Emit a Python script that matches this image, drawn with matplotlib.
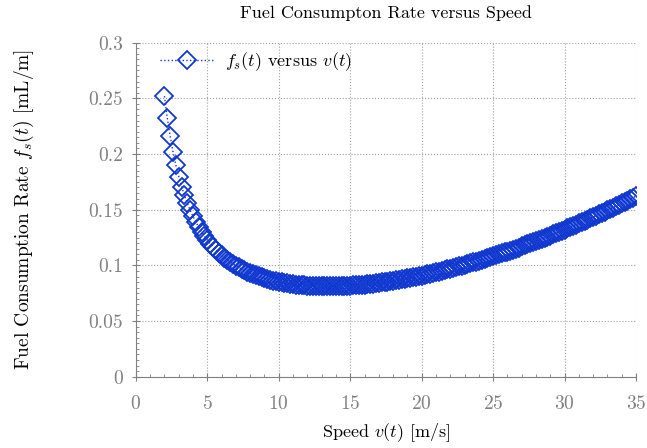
import matplotlib
matplotlib.use("Agg")
import matplotlib.pyplot as plt
from matplotlib.ticker import FuncFormatter, MultipleLocator

# speed samples [m/s] and fuel consumption rate [mL/m]
speed = [
    2.0, 2.2, 2.4, 2.6, 2.8, 3.0, 3.2, 3.4, 3.6, 3.8,
    4.0, 4.2, 4.4, 4.6, 4.8, 5.0, 5.2, 5.4, 5.6, 5.8,
    6.0, 6.2, 6.4, 6.6, 6.8, 7.0, 7.2, 7.4, 7.6, 7.8,
    8.0, 8.2, 8.4, 8.6, 8.8, 9.0, 9.2, 9.4, 9.6, 9.8,
    10.0, 10.2, 10.4, 10.6, 10.8, 11.0, 11.2, 11.4, 11.6, 11.8,
    12.0, 12.2, 12.4, 12.6, 12.8, 13.0, 13.2, 13.4, 13.6, 13.8,
    14.0, 14.2, 14.4, 14.6, 14.8, 15.0, 15.2, 15.4, 15.6, 15.8,
    16.0, 16.2, 16.4, 16.6, 16.8, 17.0, 17.2, 17.4, 17.6, 17.8,
    18.0, 18.2, 18.4, 18.6, 18.8, 19.0, 19.2, 19.4, 19.6, 19.8,
    20.0, 20.2, 20.4, 20.6, 20.8, 21.0, 21.2, 21.4, 21.6, 21.8,
    22.0, 22.2, 22.4, 22.6, 22.8, 23.0, 23.2, 23.4, 23.6, 23.8,
    24.0, 24.2, 24.4, 24.6, 24.8, 25.0, 25.2, 25.4, 25.6, 25.8,
    26.0, 26.2, 26.4, 26.6, 26.8, 27.0, 27.2, 27.4, 27.6, 27.8,
    28.0, 28.2, 28.4, 28.6, 28.8, 29.0, 29.2, 29.4, 29.6, 29.8,
    30.0, 30.2, 30.4, 30.6, 30.8, 31.0, 31.2, 31.4, 31.6, 31.8,
    32.0, 32.2, 32.4, 32.6, 32.8, 33.0, 33.2, 33.4, 33.6, 33.8,
    34.0, 34.2, 34.4, 34.6, 34.8, 35.0,
]
fuel_rate = [
    0.2519, 0.2322, 0.2158, 0.2019, 0.1900, 0.1797, 0.1707, 0.1628, 0.1558, 0.1495,
    0.1439, 0.1388, 0.1342, 0.1300, 0.1262, 0.1227, 0.1195, 0.1166, 0.1139, 0.1113,
    0.1090, 0.1069, 0.1048, 0.1030, 0.1013, 0.0996, 0.0981, 0.0967, 0.0954, 0.0942,
    0.0931, 0.0920, 0.0910, 0.0901, 0.0892, 0.0884, 0.0877, 0.0870, 0.0863, 0.0857,
    0.0852, 0.0847, 0.0842, 0.0838, 0.0834, 0.0830, 0.0827, 0.0824, 0.0822, 0.0820,
    0.0818, 0.0816, 0.0815, 0.0813, 0.0813, 0.0812, 0.0812, 0.0811, 0.0812, 0.0812,
    0.0812, 0.0813, 0.0814, 0.0815, 0.0817, 0.0818, 0.0820, 0.0822, 0.0824, 0.0826,
    0.0828, 0.0831, 0.0834, 0.0837, 0.0840, 0.0843, 0.0847, 0.0850, 0.0854, 0.0858,
    0.0862, 0.0866, 0.0870, 0.0874, 0.0879, 0.0884, 0.0889, 0.0893, 0.0899, 0.0904,
    0.0909, 0.0915, 0.0920, 0.0926, 0.0932, 0.0938, 0.0944, 0.0950, 0.0956, 0.0963,
    0.0969, 0.0976, 0.0983, 0.0990, 0.0997, 0.1004, 0.1011, 0.1019, 0.1026, 0.1034,
    0.1041, 0.1049, 0.1057, 0.1065, 0.1073, 0.1082, 0.1090, 0.1098, 0.1107, 0.1116,
    0.1124, 0.1133, 0.1142, 0.1151, 0.1160, 0.1170, 0.1179, 0.1188, 0.1198, 0.1208,
    0.1218, 0.1227, 0.1237, 0.1247, 0.1258, 0.1268, 0.1278, 0.1289, 0.1299, 0.1310,
    0.1321, 0.1332, 0.1343, 0.1354, 0.1365, 0.1376, 0.1387, 0.1399, 0.1410, 0.1422,
    0.1434, 0.1445, 0.1457, 0.1469, 0.1481, 0.1494, 0.1506, 0.1518, 0.1531, 0.1543,
    0.1556, 0.1569, 0.1582, 0.1595, 0.1608, 0.1621,
]

BLUE = "#1038d0"
GRAY = "#808080"

plt.rcParams["font.family"] = "serif"
plt.rcParams["font.serif"] = ["cmr10"]
plt.rcParams["mathtext.fontset"] = "cm"
plt.rcParams["axes.formatter.use_mathtext"] = True
plt.rcParams["axes.unicode_minus"] = False

fig = plt.figure(figsize=(6.47, 4.48), dpi=100)
ax = fig.add_axes([0.21, 0.159, 0.773, 0.746])

ax.plot(
    speed,
    fuel_rate,
    linestyle=":",
    linewidth=1.0,
    color=BLUE,
    marker="D",
    markersize=9.5,
    markerfacecolor="none",
    markeredgewidth=1.3,
    label=r"$f_s(t)$ versus $v(t)$",
    zorder=3,
)

ax.set_xlim(0, 35)
ax.set_ylim(0, 0.3)
ax.xaxis.set_major_locator(MultipleLocator(5))
ax.xaxis.set_minor_locator(MultipleLocator(1))
ax.yaxis.set_major_locator(MultipleLocator(0.05))
ax.yaxis.set_minor_locator(MultipleLocator(0.005))
ax.yaxis.set_major_formatter(FuncFormatter(lambda val, pos: f"{val:g}"))

for side in ("top", "right"):
    ax.spines[side].set_visible(False)
for side in ("left", "bottom"):
    ax.spines[side].set_color(GRAY)
    ax.spines[side].set_linewidth(0.8)

ax.tick_params(which="major", direction="inout", length=6, width=0.8, color=GRAY,
               labelcolor=GRAY, labelsize=14)
ax.tick_params(axis="x", which="major", pad=10)
ax.tick_params(axis="y", which="major", pad=6)
ax.tick_params(which="minor", direction="in", length=2.5, width=0.6, color=GRAY)
ax.grid(True, which="major", linestyle=":", linewidth=0.8, color="#a0a0a0")
ax.set_axisbelow(True)

ax.set_title("Fuel Consumpton Rate versus Speed", fontsize=13, pad=18)
ax.set_xlabel(r"Speed $v(t)$ [m/s]", fontsize=13, labelpad=6)
ax.set_ylabel(r"Fuel Consumption Rate $f_s(t)$ [mL/m]", fontsize=14, labelpad=38)

ax.legend(loc="upper left", bbox_to_anchor=(0.022, 1.015), frameon=False, fontsize=13,
          handlelength=3, numpoints=1, borderaxespad=0.3, handletextpad=0.6)

fig.savefig("out.png", dpi=100)
